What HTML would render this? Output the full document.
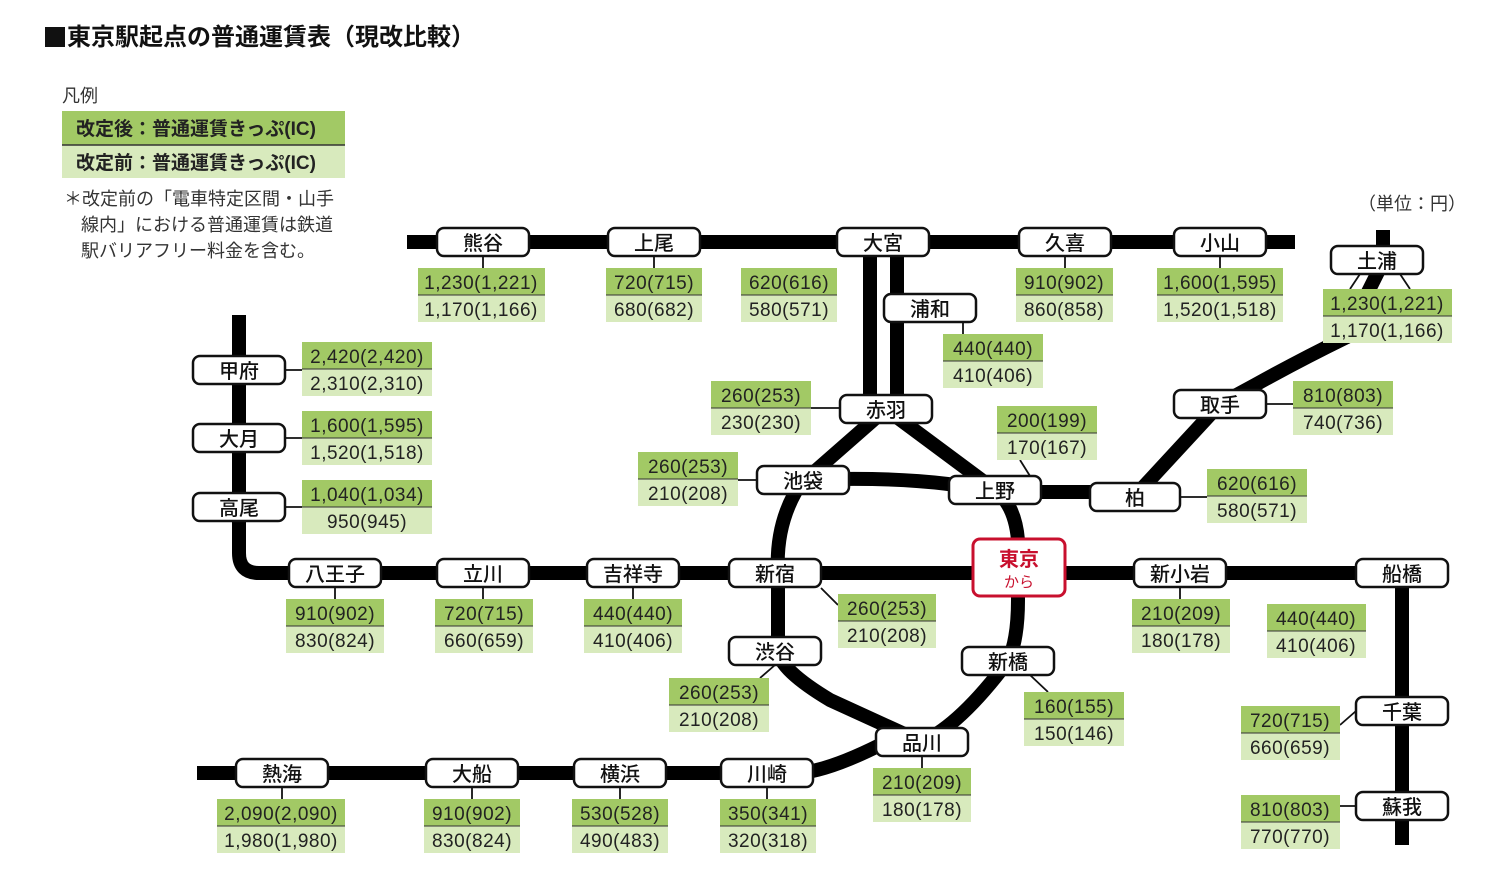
<!DOCTYPE html>
<html><head><meta charset="utf-8"><style>
html,body{margin:0;padding:0;background:#fff;width:1500px;height:890px;overflow:hidden}
svg{display:block;font-family:"Liberation Sans","Noto Sans CJK JP",sans-serif}
.st rect{fill:#fff;stroke:#111;stroke-width:2.5}
.st text{font-size:20px;text-anchor:middle;fill:#111;font-weight:500}
.f text{font-size:19px;text-anchor:middle;fill:#222;letter-spacing:0.5px}
.g{fill:#a2c965}.l{fill:#d8eabd}
.ln{fill:none;stroke:#000;stroke-width:14}
.c{stroke:#111;stroke-width:1.8;fill:none}
</style></head><body>
<svg width="1500" height="890" viewBox="0 0 1500 890">
<rect x="45" y="27" width="20" height="20" fill="#111"/>
<text x="67" y="45" font-size="24" font-weight="bold" fill="#111">東京駅起点の普通運賃表（現改比較）</text>
<text x="62" y="102" font-size="18" fill="#333">凡例</text>
<rect x="62" y="111" width="283" height="34" class="g"/><rect x="62" y="145" width="283" height="33" class="l"/>
<line x1="62" y1="145" x2="345" y2="145" stroke="#333" stroke-width="1.5"/>
<text x="76" y="135" font-size="19" font-weight="bold" fill="#222">改定後：普通運賃きっぷ(IC)</text>
<text x="76" y="169" font-size="19" font-weight="bold" fill="#222">改定前：普通運賃きっぷ(IC)</text>
<text x="64" y="205" font-size="18" fill="#333">＊改定前の「電車特定区間・山手</text>
<text x="81" y="231" font-size="18" fill="#333">線内」における普通運賃は鉄道</text>
<text x="81" y="257" font-size="18" fill="#333">駅バリアフリー料金を含む。</text>
<text x="1358" y="210" font-size="18" fill="#333">（単位：円）</text>

<path class="ln" d="M407,242 H1295"/>
<path class="ln" d="M870,242 V409 M897,242 V409"/>
<path class="ln" d="M1383,230 V262 L1345,338 Q1300,360 1255,385 L1220,404 L1134,497"/>
<path class="ln" d="M239,315 V553 Q239,573 259,573 H1402 V845"/>
<path class="ln" d="M197,773 H800 Q830,770 880,745"/>
<path class="ln" d="M886,409 L805,480 M886,409 L995,490"/>
<path class="ln" d="M803,480 Q920,475 995,492 H1134"/>
<path class="ln" d="M803,480 Q775,520 778,573 V651 Q780,670 830,700 L922,742 Q960,725 1008,661 Q1018,640 1018,600 V540 Q1015,505 995,490"/>

<g class="c">
<path d="M483,256 V268 M654,256 V268 M1065,256 V268 M1220,256 V268 M963,322 V334"/>
<path d="M1360,274 L1350,289 M1400,274 L1410,289"/>
<path d="M811,408 H840 M738,480 H757 M1020,460 L1030,476 M1180,497 H1207 M1266,404 H1293"/>
<path d="M285,370 H302 M285,438 H302 M285,507 H302"/>
<path d="M335,587 V599 M483,587 V599 M633,587 V599 M1180,587 V599 M821,588 L838,605 M1356,573 H1366"/>
<path d="M1340,725 L1356,711 M1340,806 H1356 M775,665 L760,678 M1030,675 L1048,692 M922,756 V768"/>
<path d="M282,787 V799 M472,787 V799 M620,787 V799 M767,787 V799"/>
</g>

<g class="f">
<g transform="translate(418,268)"><rect width="127" height="27" class="g"/><rect y="27" width="127" height="27" class="l"/><line x2="127" y1="27" y2="27" stroke="#333"/><text x="63" y="21">1,230(1,221)</text><text x="63" y="48">1,170(1,166)</text></g>
<g transform="translate(606,268)"><rect width="96" height="27" class="g"/><rect y="27" width="96" height="27" class="l"/><line x2="96" y1="27" y2="27" stroke="#333"/><text x="48" y="21">720(715)</text><text x="48" y="48">680(682)</text></g>
<g transform="translate(741,268)"><rect width="96" height="27" class="g"/><rect y="27" width="96" height="27" class="l"/><line x2="96" y1="27" y2="27" stroke="#333"/><text x="48" y="21">620(616)</text><text x="48" y="48">580(571)</text></g>
<g transform="translate(1016,268)"><rect width="97" height="27" class="g"/><rect y="27" width="97" height="27" class="l"/><line x2="97" y1="27" y2="27" stroke="#333"/><text x="48" y="21">910(902)</text><text x="48" y="48">860(858)</text></g>
<g transform="translate(1157,268)"><rect width="126" height="27" class="g"/><rect y="27" width="126" height="27" class="l"/><line x2="126" y1="27" y2="27" stroke="#333"/><text x="63" y="21">1,600(1,595)</text><text x="63" y="48">1,520(1,518)</text></g>
<g transform="translate(1323,289)"><rect width="129" height="27" class="g"/><rect y="27" width="129" height="27" class="l"/><line x2="129" y1="27" y2="27" stroke="#333"/><text x="64" y="21">1,230(1,221)</text><text x="64" y="48">1,170(1,166)</text></g>
<g transform="translate(943,334)"><rect width="100" height="27" class="g"/><rect y="27" width="100" height="27" class="l"/><line x2="100" y1="27" y2="27" stroke="#333"/><text x="50" y="21">440(440)</text><text x="50" y="48">410(406)</text></g>
<g transform="translate(711,381)"><rect width="100" height="27" class="g"/><rect y="27" width="100" height="27" class="l"/><line x2="100" y1="27" y2="27" stroke="#333"/><text x="50" y="21">260(253)</text><text x="50" y="48">230(230)</text></g>
<g transform="translate(997,406)"><rect width="100" height="27" class="g"/><rect y="27" width="100" height="27" class="l"/><line x2="100" y1="27" y2="27" stroke="#333"/><text x="50" y="21">200(199)</text><text x="50" y="48">170(167)</text></g>
<g transform="translate(1293,381)"><rect width="100" height="27" class="g"/><rect y="27" width="100" height="27" class="l"/><line x2="100" y1="27" y2="27" stroke="#333"/><text x="50" y="21">810(803)</text><text x="50" y="48">740(736)</text></g>
<g transform="translate(638,452)"><rect width="100" height="27" class="g"/><rect y="27" width="100" height="27" class="l"/><line x2="100" y1="27" y2="27" stroke="#333"/><text x="50" y="21">260(253)</text><text x="50" y="48">210(208)</text></g>
<g transform="translate(1207,469)"><rect width="100" height="27" class="g"/><rect y="27" width="100" height="27" class="l"/><line x2="100" y1="27" y2="27" stroke="#333"/><text x="50" y="21">620(616)</text><text x="50" y="48">580(571)</text></g>
<g transform="translate(302,342)"><rect width="130" height="27" class="g"/><rect y="27" width="130" height="27" class="l"/><line x2="130" y1="27" y2="27" stroke="#333"/><text x="65" y="21">2,420(2,420)</text><text x="65" y="48">2,310(2,310)</text></g>
<g transform="translate(302,411)"><rect width="130" height="27" class="g"/><rect y="27" width="130" height="27" class="l"/><line x2="130" y1="27" y2="27" stroke="#333"/><text x="65" y="21">1,600(1,595)</text><text x="65" y="48">1,520(1,518)</text></g>
<g transform="translate(302,480)"><rect width="130" height="27" class="g"/><rect y="27" width="130" height="27" class="l"/><line x2="130" y1="27" y2="27" stroke="#333"/><text x="65" y="21">1,040(1,034)</text><text x="65" y="48">950(945)</text></g>
<g transform="translate(286,599)"><rect width="98" height="27" class="g"/><rect y="27" width="98" height="27" class="l"/><line x2="98" y1="27" y2="27" stroke="#333"/><text x="49" y="21">910(902)</text><text x="49" y="48">830(824)</text></g>
<g transform="translate(435,599)"><rect width="98" height="27" class="g"/><rect y="27" width="98" height="27" class="l"/><line x2="98" y1="27" y2="27" stroke="#333"/><text x="49" y="21">720(715)</text><text x="49" y="48">660(659)</text></g>
<g transform="translate(584,599)"><rect width="98" height="27" class="g"/><rect y="27" width="98" height="27" class="l"/><line x2="98" y1="27" y2="27" stroke="#333"/><text x="49" y="21">440(440)</text><text x="49" y="48">410(406)</text></g>
<g transform="translate(838,594)"><rect width="98" height="27" class="g"/><rect y="27" width="98" height="27" class="l"/><line x2="98" y1="27" y2="27" stroke="#333"/><text x="49" y="21">260(253)</text><text x="49" y="48">210(208)</text></g>
<g transform="translate(1132,599)"><rect width="98" height="27" class="g"/><rect y="27" width="98" height="27" class="l"/><line x2="98" y1="27" y2="27" stroke="#333"/><text x="49" y="21">210(209)</text><text x="49" y="48">180(178)</text></g>
<g transform="translate(1267,604)"><rect width="99" height="27" class="g"/><rect y="27" width="99" height="27" class="l"/><line x2="99" y1="27" y2="27" stroke="#333"/><text x="49" y="21">440(440)</text><text x="49" y="48">410(406)</text></g>
<g transform="translate(669,678)"><rect width="100" height="27" class="g"/><rect y="27" width="100" height="27" class="l"/><line x2="100" y1="27" y2="27" stroke="#333"/><text x="50" y="21">260(253)</text><text x="50" y="48">210(208)</text></g>
<g transform="translate(1024,692)"><rect width="100" height="27" class="g"/><rect y="27" width="100" height="27" class="l"/><line x2="100" y1="27" y2="27" stroke="#333"/><text x="50" y="21">160(155)</text><text x="50" y="48">150(146)</text></g>
<g transform="translate(1241,706)"><rect width="99" height="27" class="g"/><rect y="27" width="99" height="27" class="l"/><line x2="99" y1="27" y2="27" stroke="#333"/><text x="49" y="21">720(715)</text><text x="49" y="48">660(659)</text></g>
<g transform="translate(873,768)"><rect width="98" height="27" class="g"/><rect y="27" width="98" height="27" class="l"/><line x2="98" y1="27" y2="27" stroke="#333"/><text x="49" y="21">210(209)</text><text x="49" y="48">180(178)</text></g>
<g transform="translate(1241,795)"><rect width="99" height="27" class="g"/><rect y="27" width="99" height="27" class="l"/><line x2="99" y1="27" y2="27" stroke="#333"/><text x="49" y="21">810(803)</text><text x="49" y="48">770(770)</text></g>
<g transform="translate(217,799)"><rect width="128" height="27" class="g"/><rect y="27" width="128" height="27" class="l"/><line x2="128" y1="27" y2="27" stroke="#333"/><text x="64" y="21">2,090(2,090)</text><text x="64" y="48">1,980(1,980)</text></g>
<g transform="translate(424,799)"><rect width="96" height="27" class="g"/><rect y="27" width="96" height="27" class="l"/><line x2="96" y1="27" y2="27" stroke="#333"/><text x="48" y="21">910(902)</text><text x="48" y="48">830(824)</text></g>
<g transform="translate(572,799)"><rect width="96" height="27" class="g"/><rect y="27" width="96" height="27" class="l"/><line x2="96" y1="27" y2="27" stroke="#333"/><text x="48" y="21">530(528)</text><text x="48" y="48">490(483)</text></g>
<g transform="translate(720,799)"><rect width="96" height="27" class="g"/><rect y="27" width="96" height="27" class="l"/><line x2="96" y1="27" y2="27" stroke="#333"/><text x="48" y="21">350(341)</text><text x="48" y="48">320(318)</text></g>
</g>

<g class="st">
<rect x="437" y="228" width="92" height="28" rx="7"/><text x="483" y="250">熊谷</text>
<rect x="608" y="228" width="92" height="28" rx="7"/><text x="654" y="250">上尾</text>
<rect x="837" y="228" width="92" height="28" rx="7"/><text x="883" y="250">大宮</text>
<rect x="1019" y="228" width="92" height="28" rx="7"/><text x="1065" y="250">久喜</text>
<rect x="1174" y="228" width="92" height="28" rx="7"/><text x="1220" y="250">小山</text>
<rect x="1331" y="246" width="92" height="28" rx="7"/><text x="1377" y="268">土浦</text>
<rect x="884" y="294" width="92" height="28" rx="7"/><text x="930" y="316">浦和</text>
<rect x="840" y="395" width="92" height="28" rx="7"/><text x="886" y="417">赤羽</text>
<rect x="1174" y="390" width="92" height="28" rx="7"/><text x="1220" y="412">取手</text>
<rect x="757" y="466" width="92" height="28" rx="7"/><text x="803" y="488">池袋</text>
<rect x="949" y="476" width="92" height="28" rx="7"/><text x="995" y="498">上野</text>
<rect x="1090" y="483" width="90" height="28" rx="7"/><text x="1135" y="505">柏</text>
<rect x="193" y="356" width="92" height="28" rx="7"/><text x="239" y="378">甲府</text>
<rect x="193" y="424" width="92" height="28" rx="7"/><text x="239" y="446">大月</text>
<rect x="193" y="493" width="92" height="28" rx="7"/><text x="239" y="515">高尾</text>
<rect x="289" y="559" width="92" height="28" rx="7"/><text x="335" y="581">八王子</text>
<rect x="437" y="559" width="92" height="28" rx="7"/><text x="483" y="581">立川</text>
<rect x="587" y="559" width="92" height="28" rx="7"/><text x="633" y="581">吉祥寺</text>
<rect x="729" y="559" width="92" height="28" rx="7"/><text x="775" y="581">新宿</text>
<rect x="1134" y="559" width="92" height="28" rx="7"/><text x="1180" y="581">新小岩</text>
<rect x="1356" y="559" width="92" height="28" rx="7"/><text x="1402" y="581">船橋</text>
<rect x="729" y="637" width="92" height="28" rx="7"/><text x="775" y="659">渋谷</text>
<rect x="962" y="647" width="92" height="28" rx="7"/><text x="1008" y="669">新橋</text>
<rect x="1356" y="697" width="92" height="28" rx="7"/><text x="1402" y="719">千葉</text>
<rect x="876" y="728" width="92" height="28" rx="7"/><text x="922" y="750">品川</text>
<rect x="1356" y="792" width="92" height="28" rx="7"/><text x="1402" y="814">蘇我</text>
<rect x="236" y="759" width="92" height="28" rx="7"/><text x="282" y="781">熱海</text>
<rect x="426" y="759" width="92" height="28" rx="7"/><text x="472" y="781">大船</text>
<rect x="574" y="759" width="92" height="28" rx="7"/><text x="620" y="781">横浜</text>
<rect x="721" y="759" width="92" height="28" rx="7"/><text x="767" y="781">川崎</text>
</g>
<rect x="973" y="539" width="92" height="57" rx="7" fill="#fff" stroke="#c8102e" stroke-width="3"/>
<text x="1019" y="566" font-size="20" text-anchor="middle" fill="#c8102e" font-weight="bold">東京</text>
<text x="1019" y="587" font-size="15" text-anchor="middle" fill="#c8102e">から</text>
</svg>
</body></html>
